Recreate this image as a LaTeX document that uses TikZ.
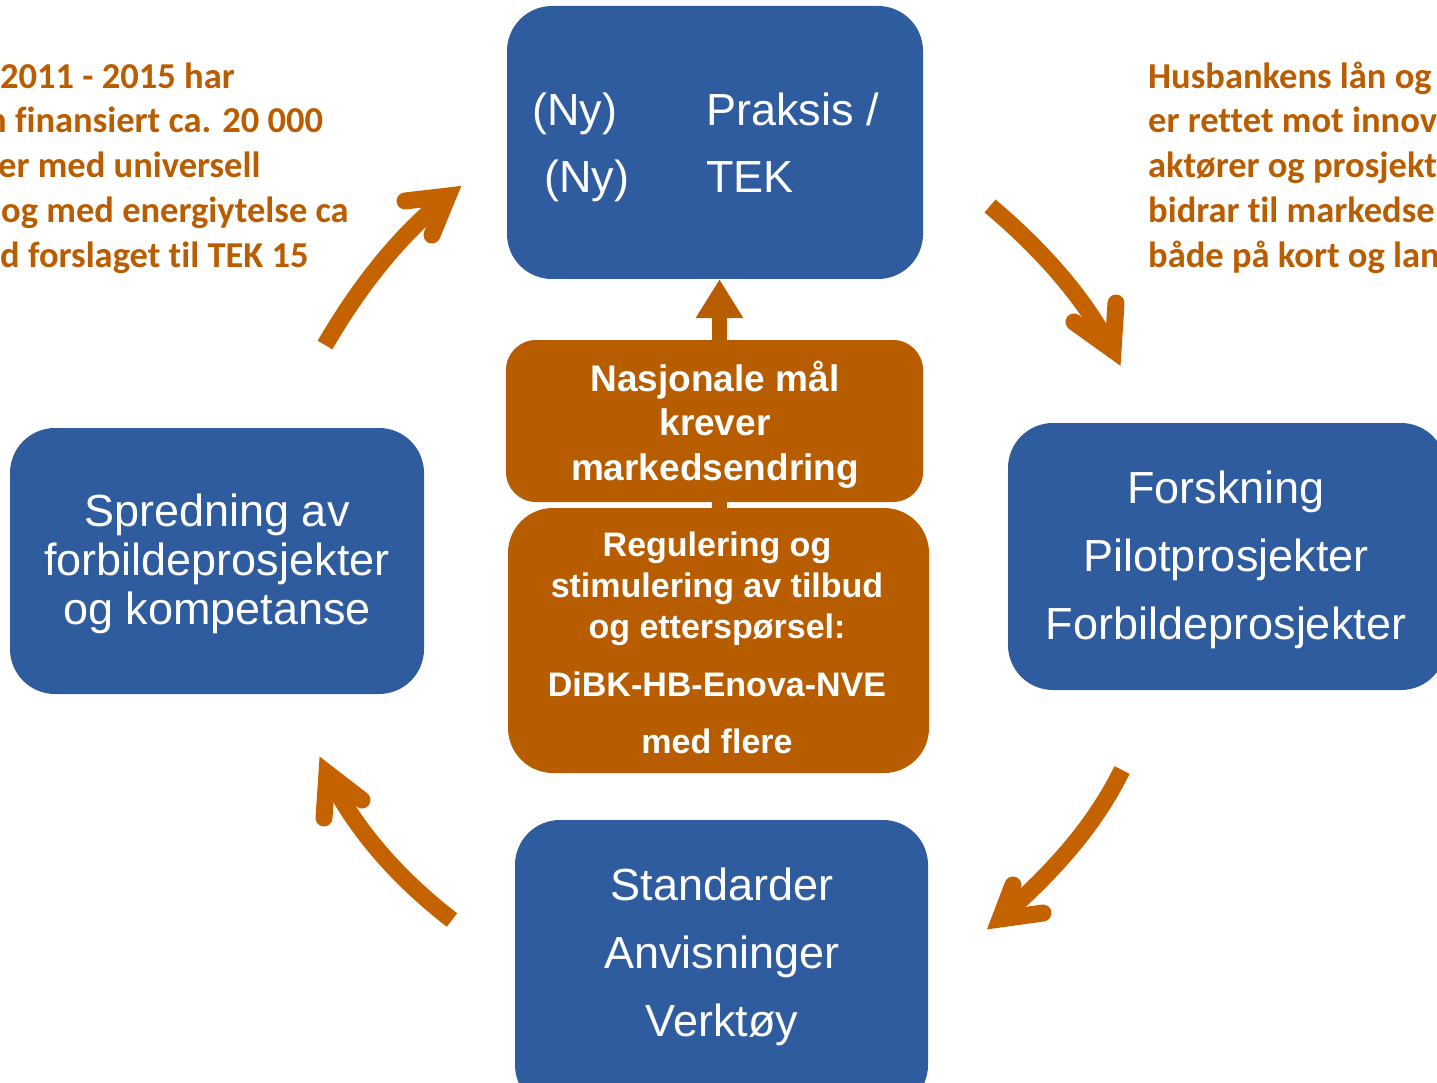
\documentclass[tikz,border=0pt]{standalone}
\usepackage{fontspec}
\setmainfont{Liberation Sans}
\newfontfamily\calfont[Ligatures=NoCommon]{Carlito}
\usetikzlibrary{arrows.meta,calc}
\definecolor{boxblue}{RGB}{47,91,159}
\definecolor{boxorange}{RGB}{184,92,0}
\definecolor{arroworange}{RGB}{197,98,0}
\definecolor{textorange}{RGB}{186,92,0}
\begin{document}
\begin{tikzpicture}[x=1pt,y=-1pt,
  bluebox/.style={fill=boxblue, rounded corners=45pt, inner sep=0pt},
  orangebox/.style={fill=boxorange, inner sep=0pt},
  bluetxt/.style={text=white, font=\fontsize{45}{50}\selectfont, inner sep=0pt},
  orangetxt/.style={text=white, font=\fontsize{37}{42}\selectfont\bfseries, inner sep=0pt, anchor=base},
  regtxt/.style={text=white, font=\fontsize{34}{40}\selectfont\bfseries, inner sep=0pt, anchor=base},
  sidetxt/.style={text=textorange, font=\fontsize{36.5}{44}\calfont\bfseries, inner sep=0pt, anchor=base west},
  shaft/.style={draw=arroworange, line width=17pt},
  barbs/.style={draw=arroworange, line width=17pt, line cap=round, line join=miter}
]
\useasboundingbox (0,0) rectangle (1437,1083);
\clip (0,0) rectangle (1437,1083);

% blue boxes
\node[bluebox, minimum width=416pt, minimum height=273pt] (top) at (715,142.5) {};
\node[bluebox, minimum width=414pt, minimum height=266pt] (left) at (217,561) {};
\node[bluebox, minimum width=438pt, minimum height=267pt] (right) at (1227,556.5) {};
\node[bluebox, minimum width=413pt, minimum height=290pt] (bottom) at (721.5,965) {};

% orange boxes and inner arrow
\node[orangebox, rounded corners=45pt, minimum width=421pt, minimum height=265pt] (reg) at (718.5,640.5) {};
\draw[boxorange, line width=15pt, -{Triangle[width=45pt,length=39pt]}]
  ([xshift=1pt]reg.north) -- ([xshift=4.5pt]top.south);
\node[orangebox, rounded corners=30pt, minimum width=417pt, minimum height=162pt] (goal) at (714.5,421) {};

% top box text
\node[bluetxt, anchor=base west] (ny1) at (532,126) {(Ny)};
\node[bluetxt, anchor=base west] (ny2) at (544,193) {(Ny)};
\node[bluetxt, anchor=base west] (praksis) at (706,126) {Praksis /};
\node[bluetxt, anchor=base west] (tek) at (706,193) {TEK};

% left box text
\node[bluetxt, anchor=base] (l1) at (217,526) {Spredning av};
\node[bluetxt, anchor=base] (l2) at (217,575) {forbildeprosjekter};
\node[bluetxt, anchor=base] (l3) at (217,624) {og kompetanse};

% right box text
\node[bluetxt, anchor=base] (r1) at (1226,503) {Forskning};
\node[bluetxt, anchor=base] (r2) at (1226,571) {Pilotprosjekter};
\node[bluetxt, anchor=base] (r3) at (1226,639) {Forbildeprosjekter};

% bottom box text
\node[bluetxt, anchor=base] (b1) at (722,900) {Standarder};
\node[bluetxt, anchor=base] (b2) at (722,968) {Anvisninger};
\node[bluetxt, anchor=base] (b3) at (722,1036) {Verktøy};

% orange box texts
\node[orangetxt] (g1) at (715,391) {Nasjonale mål};
\node[orangetxt] (g2) at (715,435) {krever};
\node[orangetxt] (g3) at (715,480) {markedsendring};

\node[regtxt] (q1) at (717,556) {Regulering og};
\node[regtxt] (q2) at (717,597) {stimulering av tilbud};
\node[regtxt] (q3) at (717,638) {og etterspørsel:};
\node[regtxt] (q4) at (717,696) {DiBK-HB-Enova-NVE};
\node[regtxt] (q5) at (717,753) {med flere};

% side texts (cut by the picture's edges)
\node[sidetxt] (s1) at (0,89) {2011 - 2015 har};
\node[sidetxt] (s2) at (-13,133) {n finansiert ca. 20 000};
\node[sidetxt] (s3) at (-2,178) {er med universell};
\node[sidetxt] (s4) at (1,223) {og med energiytelse ca};
\node[sidetxt] (s5) at (0,268) {d forslaget til TEK 15};

\node[sidetxt] (h1) at (1148,89) {Husbankens lån og};
\node[sidetxt] (h2) at (1148,133) {er rettet mot innov};
\node[sidetxt] (h3) at (1148,178) {aktører og prosjekt};
\node[sidetxt] (h4) at (1148,223) {bidrar til markedse};
\node[sidetxt] (h5) at (1148,268) {både på kort og lan};

% curved cycle arrows
\coordinate (a1s) at (325,345);
\coordinate (a1e) at (446,198);
\coordinate (a1t) at (448,196);
\coordinate (a1b) at (405,201);
\coordinate (a1c) at (432,235);
\draw[shaft] (a1s) .. controls (360,285) and (400,235) .. (a1e);
\draw[barbs] (a1b) -- (a1t) -- (a1c);

\coordinate (a2s) at (990,206);
\coordinate (a2e) at (1110,348);
\coordinate (a2t) at (1113,350);
\coordinate (a2b) at (1074,322);
\coordinate (a2c) at (1116,303);
\draw[shaft] (a2s) .. controls (1040,248) and (1085,298) .. (a2e);
\draw[barbs] (a2b) -- (a2t) -- (a2c);

\coordinate (a3s) at (1122,770);
\coordinate (a3e) at (1003,916);
\coordinate (a3t) at (1000,919);
\coordinate (a3b) at (1013,885);
\coordinate (a3c) at (1043,913);
\draw[shaft] (a3s) .. controls (1095,825) and (1055,870) .. (a3e);
\draw[barbs] (a3b) -- (a3t) -- (a3c);

\coordinate (a4s) at (452,920);
\coordinate (a4e) at (329,776);
\coordinate (a4t) at (327,773);
\coordinate (a4b) at (324,818);
\coordinate (a4c) at (362,800);
\draw[shaft] (a4s) .. controls (400,880) and (355,830) .. (a4e);
\draw[barbs] (a4b) -- (a4t) -- (a4c);
\end{tikzpicture}
\end{document}
